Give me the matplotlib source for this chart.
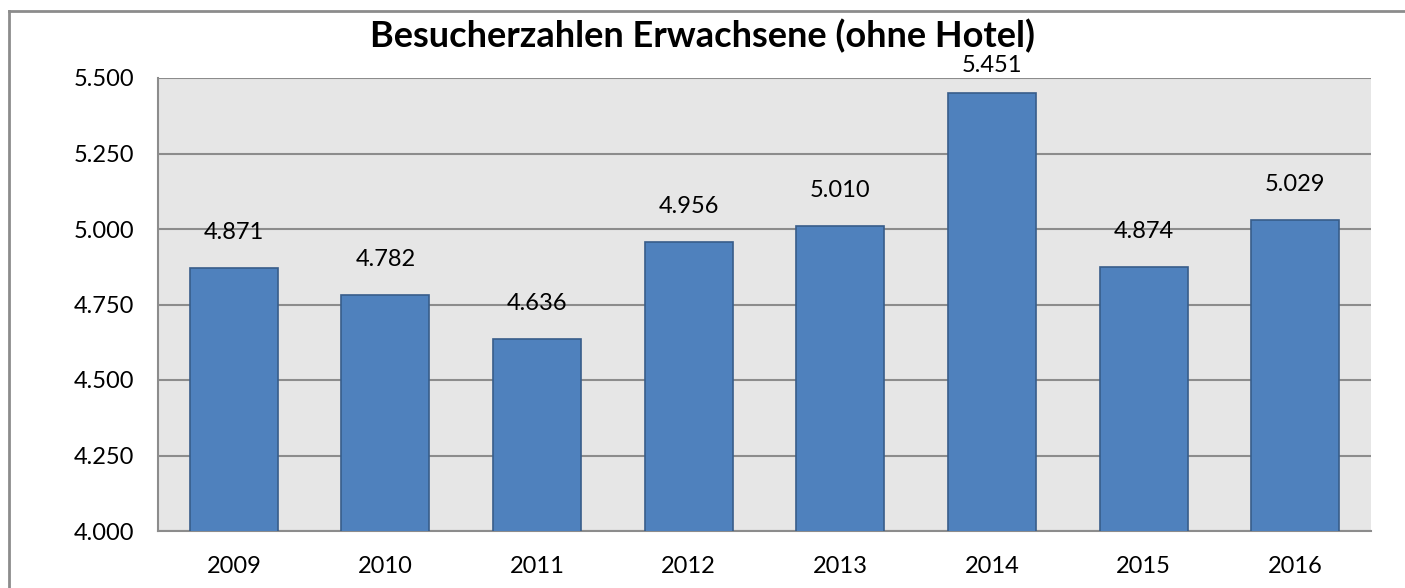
import numpy as np
import matplotlib.pyplot as plt
from matplotlib.lines import Line2D

years = ['2009', '2010', '2011', '2012', '2013', '2014', '2015', '2016']
visitors = [4871, 4782, 4636, 4956, 5010, 5451, 4874, 5029]
yticks = [4000, 4250, 4500, 4750, 5000, 5250, 5500]


def de_fmt(v):
    return f'{v:,.0f}'.replace(',', '.')


plt.rcParams['font.family'] = ['Lato', 'DejaVu Sans']

fig = plt.figure(figsize=(14.05, 5.88), dpi=100)
ax = fig.add_axes([158 / 1405, 1 - 531 / 588, (1371 - 158) / 1405, (531 - 78) / 588])

# chart border (only left and top edges are visible in the crop)
bx, by = 8.5 / 1405, 1 - 10.5 / 588
fig.add_artist(Line2D([bx, bx], [0, by], transform=fig.transFigure, color='#8c8c8c', lw=2))
fig.add_artist(Line2D([bx, 1], [by, by], transform=fig.transFigure, color='#8c8c8c', lw=2))

x = np.arange(len(years))
ax.set_facecolor('#e6e6e6')
ax.bar(x, visitors, width=0.58, color='#4f81bd', edgecolor='#385d8a', linewidth=1.2, zorder=3)

# labels sit above the bars, pushed down a bit when they would hit the title
for xi, v in zip(x, visitors):
    ax.text(xi, min(v + 118, 5541), de_fmt(v), ha='center', va='center', fontsize=17)

ax.set_ylim(4000, 5500)
ax.set_xlim(-0.5, len(years) - 0.5)
ax.set_yticks(yticks)
ax.set_yticklabels([de_fmt(t) for t in yticks], fontsize=17)
ax.set_xticks(x)
ax.set_xticklabels(years, fontsize=17)
ax.tick_params(length=0)
ax.tick_params(axis='x', pad=18)
ax.tick_params(axis='y', pad=17)
ax.yaxis.grid(True, color='#8c8c8c', linewidth=1.5, zorder=0)

for s in ['left', 'bottom']:
    ax.spines[s].set_color('#8c8c8c')
    ax.spines[s].set_linewidth(1.5)
ax.spines['right'].set_visible(False)
ax.spines['top'].set_visible(False)

fig.text(0.5, 1 - 36 / 588, 'Besucherzahlen Erwachsene (ohne Hotel)', ha='center', va='center',
         fontsize=26, fontweight='bold')

fig.savefig('out.png', dpi=100)
